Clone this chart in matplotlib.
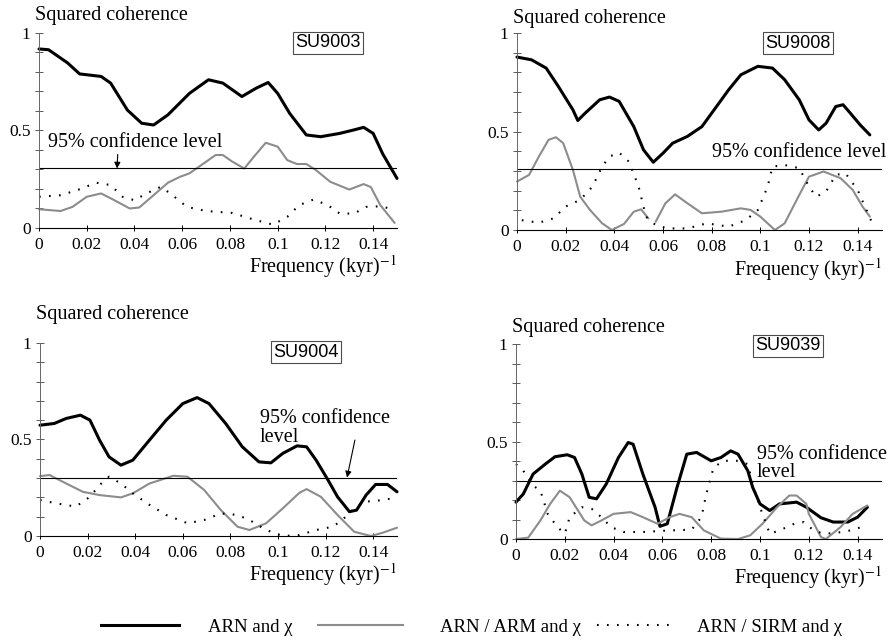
import numpy as np
import matplotlib
matplotlib.use("Agg")
import matplotlib.pyplot as plt
from matplotlib.lines import Line2D

plt.rcParams["font.family"] = ["Liberation Serif", "DejaVu Serif"]
plt.rcParams["mathtext.fontset"] = "stix"

# SU9003
f_9003_chi = [0, 0.004, 0.012, 0.017, 0.026, 0.03, 0.037, 0.043, 0.048, 0.054, 0.063,
              0.071, 0.077, 0.085, 0.091, 0.096, 0.1, 0.105, 0.112, 0.118, 0.126,
              0.132, 0.136, 0.14, 0.144, 0.15]
c_9003_chi = [0.918, 0.914, 0.846, 0.79, 0.777, 0.743, 0.605, 0.537, 0.528, 0.58, 0.69,
              0.76, 0.743, 0.674, 0.717, 0.746, 0.69, 0.588, 0.477, 0.468, 0.485,
              0.503, 0.516, 0.485, 0.38, 0.254]
f_9003_arm = [0, 0.009, 0.014, 0.02, 0.026, 0.031, 0.038, 0.042, 0.048, 0.054, 0.059,
              0.063, 0.067, 0.074, 0.077, 0.081, 0.086, 0.09, 0.095, 0.1, 0.104,
              0.108, 0.112, 0.116, 0.122, 0.13, 0.136, 0.139, 0.143, 0.149]
c_9003_arm = [0.096, 0.087, 0.108, 0.16, 0.177, 0.146, 0.1, 0.105, 0.168, 0.232, 0.262,
              0.28, 0.314, 0.374, 0.374, 0.34, 0.305, 0.365, 0.437, 0.417, 0.348,
              0.328, 0.328, 0.297, 0.237, 0.197, 0.225, 0.21, 0.117, 0.026]
f_9003_sirm = [0, 0.009, 0.016, 0.024, 0.03, 0.035, 0.04, 0.045, 0.051, 0.055, 0.062,
               0.07, 0.081, 0.09, 0.098, 0.104, 0.109, 0.115, 0.121, 0.126, 0.132,
               0.137, 0.143, 0.147]
c_9003_sirm = [0.16, 0.168, 0.194, 0.232, 0.22, 0.16, 0.142, 0.177, 0.211, 0.177, 0.108,
               0.087, 0.077, 0.043, 0.017, 0.057, 0.117, 0.146, 0.117, 0.074, 0.074,
               0.108, 0.111, 0.1]

# SU9008
f_9008_chi = [0, 0.006, 0.012, 0.017, 0.023, 0.025, 0.028, 0.034, 0.038, 0.042, 0.048,
              0.052, 0.056, 0.06, 0.064, 0.07, 0.076, 0.081, 0.087, 0.092, 0.099,
              0.105, 0.11, 0.116, 0.12, 0.124, 0.127, 0.131, 0.134, 0.137, 0.141, 0.145]
c_9008_chi = [0.878, 0.864, 0.822, 0.729, 0.61, 0.556, 0.593, 0.661, 0.675, 0.653, 0.525,
              0.407, 0.344, 0.39, 0.441, 0.475, 0.525, 0.61, 0.712, 0.788, 0.831,
              0.822, 0.763, 0.661, 0.559, 0.508, 0.542, 0.627, 0.636, 0.593, 0.534, 0.483]
f_9008_arm = [0, 0.005, 0.009, 0.013, 0.016, 0.019, 0.023, 0.026, 0.03, 0.035, 0.039,
              0.044, 0.048, 0.051, 0.054, 0.0555, 0.057, 0.061, 0.065, 0.07, 0.076,
              0.084, 0.092, 0.096, 0.1, 0.106, 0.11, 0.116, 0.12, 0.126, 0.133, 0.138,
              0.142, 0.145]
c_9008_arm = [0.246, 0.28, 0.373, 0.458, 0.471, 0.441, 0.305, 0.169, 0.102, 0.034, 0.0,
              0.031, 0.093, 0.105, 0.059, np.nan, 0.042, 0.136, 0.181, 0.136, 0.085,
              0.093, 0.11, 0.102, 0.068, 0.0, 0.034, 0.178, 0.271, 0.297, 0.263, 0.203,
              0.119, 0.068]
f_9008_sirm = [0.002, 0.009, 0.015, 0.02, 0.026, 0.031, 0.035, 0.038, 0.042, 0.046, 0.05,
               0.053, 0.057, 0.062, 0.07, 0.078, 0.087, 0.094, 0.099, 0.103, 0.105,
               0.11, 0.116, 0.12, 0.123, 0.127, 0.131, 0.135, 0.14, 0.146]
c_9008_sirm = [0.05, 0.037, 0.059, 0.119, 0.153, 0.22, 0.322, 0.373, 0.393, 0.347, 0.22,
               0.068, 0.025, 0.008, 0.008, 0.034, 0.017, 0.05, 0.102, 0.22, 0.322,
               0.33, 0.314, 0.22, 0.169, 0.195, 0.28, 0.288, 0.203, 0.034]

# SU9004
f_9004_chi = [0, 0.006, 0.011, 0.017, 0.021, 0.025, 0.029, 0.034, 0.039, 0.046, 0.053,
              0.06, 0.066, 0.071, 0.078, 0.085, 0.092, 0.097, 0.102, 0.108, 0.112,
              0.116, 0.121, 0.125, 0.13, 0.133, 0.137, 0.141, 0.146, 0.15]
c_9004_chi = [0.574, 0.583, 0.609, 0.626, 0.6, 0.497, 0.41, 0.367, 0.393, 0.497, 0.6,
              0.686, 0.717, 0.686, 0.583, 0.462, 0.384, 0.379, 0.428, 0.467, 0.462,
              0.393, 0.29, 0.203, 0.126, 0.134, 0.212, 0.267, 0.267, 0.229]
f_9004_arm = [0, 0.004, 0.011, 0.018, 0.025, 0.034, 0.039, 0.046, 0.056, 0.062, 0.069,
              0.076, 0.083, 0.088, 0.095, 0.102, 0.109, 0.112, 0.118, 0.125, 0.132,
              0.139, 0.144, 0.15]
c_9004_arm = [0.31, 0.316, 0.272, 0.229, 0.212, 0.2, 0.221, 0.272, 0.312, 0.307, 0.238,
              0.134, 0.048, 0.031, 0.066, 0.143, 0.224, 0.243, 0.203, 0.109, 0.022,
              0.0, 0.017, 0.043]
f_9004_sirm = [0, 0.007, 0.015, 0.021, 0.025, 0.029, 0.034, 0.039, 0.045, 0.053, 0.062,
               0.069, 0.076, 0.083, 0.088, 0.095, 0.102, 0.109, 0.116, 0.123, 0.127,
               0.132, 0.137, 0.144, 0.15]
c_9004_sirm = [0.186, 0.169, 0.152, 0.203, 0.264, 0.307, 0.272, 0.221, 0.169, 0.109, 0.066,
               0.083, 0.117, 0.109, 0.083, 0.031, 0.0, 0.005, 0.031, 0.048, 0.083,
               0.143, 0.178, 0.186, 0.2]

# SU9039
f_9039_chi = [0, 0.003, 0.007, 0.012, 0.016, 0.021, 0.024, 0.027, 0.03, 0.033, 0.037,
              0.042, 0.046, 0.048, 0.052, 0.057, 0.059, 0.062, 0.066, 0.07, 0.074,
              0.08, 0.084, 0.088, 0.091, 0.095, 0.097, 0.1, 0.104, 0.108, 0.115,
              0.119, 0.125, 0.13, 0.136, 0.14, 0.144]
c_9039_chi = [0.189, 0.231, 0.333, 0.384, 0.422, 0.432, 0.418, 0.333, 0.214, 0.206, 0.282,
              0.418, 0.495, 0.486, 0.333, 0.163, 0.065, 0.078, 0.265, 0.435, 0.444,
              0.401, 0.418, 0.452, 0.435, 0.35, 0.265, 0.18, 0.146, 0.18, 0.189,
              0.163, 0.109, 0.087, 0.087, 0.112, 0.163]
f_9039_arm = [0, 0.005, 0.01, 0.014, 0.018, 0.022, 0.028, 0.031, 0.035, 0.04, 0.047,
              0.052, 0.058, 0.063, 0.067, 0.072, 0.077, 0.084, 0.091, 0.096, 0.101,
              0.107, 0.112, 0.115, 0.119, 0.12, 0.125, 0.127, 0.133, 0.138, 0.144]
c_9039_arm = [0.0, 0.007, 0.095, 0.18, 0.248, 0.214, 0.095, 0.07, 0.095, 0.129, 0.138,
              0.112, 0.078, 0.112, 0.129, 0.112, 0.044, 0.002, 0.0, 0.019, 0.078,
              0.163, 0.223, 0.223, 0.18, 0.129, 0.01, 0.0, 0.061, 0.129, 0.172]
f_9039_sirm = [0, 0.003, 0.007, 0.01, 0.013, 0.017, 0.02, 0.022, 0.027, 0.031, 0.035,
               0.039, 0.044, 0.052, 0.063, 0.072, 0.076, 0.078, 0.081, 0.085, 0.091,
               0.095, 0.097, 0.1, 0.104, 0.108, 0.114, 0.118, 0.122, 0.126, 0.131,
               0.137, 0.144]
c_9039_sirm = [0.384, 0.35, 0.274, 0.248, 0.129, 0.061, 0.027, 0.112, 0.163, 0.155, 0.112,
               0.061, 0.036, 0.036, 0.044, 0.048, 0.112, 0.231, 0.367, 0.401, 0.401,
               0.384, 0.282, 0.163, 0.027, 0.044, 0.078, 0.087, 0.044, 0.027, 0.031,
               0.044, 0.07]

cores = ["SU9003", "SU9008", "SU9004", "SU9039"]
conf_level = [0.305, 0.308, 0.303, 0.30]
x_ticks = [0, 0.02, 0.04, 0.06, 0.08, 0.1, 0.12, 0.14]
x_ticklabels = ["0", "0.02", "0.04", "0.06", "0.08", "0.1", "0.12", "0.14"]
legend_labels = ["ARN and \u03c7", "ARN / ARM and \u03c7", "ARN / SIRM and \u03c7"]

series = {
    "SU9003": [(f_9003_chi, c_9003_chi), (f_9003_arm, c_9003_arm), (f_9003_sirm, c_9003_sirm)],
    "SU9008": [(f_9008_chi, c_9008_chi), (f_9008_arm, c_9008_arm), (f_9008_sirm, c_9008_sirm)],
    "SU9004": [(f_9004_chi, c_9004_chi), (f_9004_arm, c_9004_arm), (f_9004_sirm, c_9004_sirm)],
    "SU9039": [(f_9039_chi, c_9039_chi), (f_9039_arm, c_9039_arm), (f_9039_sirm, c_9039_sirm)],
}

line_styles = [
    dict(color="black", lw=2.2, ls="-"),
    dict(color="0.55", lw=1.5, ls="-"),
    dict(color="black", lw=1.5, ls=(0, (0.8, 4.0))),
]

fig = plt.figure(figsize=(8.91, 6.4), dpi=100)
rects = [
    [0.0438, 0.6438, 0.4018, 0.3047],
    [0.5802, 0.6406, 0.4097, 0.3078],
    [0.0449, 0.1625, 0.4007, 0.3016],
    [0.5791, 0.1578, 0.4108, 0.3047],
]
title_y = [1.09, 1.075, 1.145, 1.087]
box_pos = [(0.807, 0.949), (0.77, 0.949), (0.745, 0.953), (0.743, 0.99)]

for i, core in enumerate(cores):
    ax = fig.add_axes(rects[i])
    ax.set_xlim(0, 0.15)
    ax.set_ylim(0, 1)
    for (f, c), st in zip(series[core], line_styles):
        ax.plot(f, c, clip_on=False, solid_capstyle="round", **st)
    ax.axhline(conf_level[i], color="black", lw=0.8)

    for s in ["top", "right"]:
        ax.spines[s].set_visible(False)
    ax.spines["left"].set_color("0.4")
    ax.spines["left"].set_linewidth(0.7)
    ax.spines["bottom"].set_linewidth(0.8)
    ax.set_yticks([0, 0.5, 1])
    ax.set_yticklabels(["0", "0.5", "1"])
    ax.set_yticks(np.arange(0, 1.01, 0.1), minor=True)
    ax.set_xticks(x_ticks)
    ax.set_xticklabels(x_ticklabels)
    ax.tick_params(axis="y", which="both", direction="inout", length=6, width=0.7,
                   color="0.35", labelsize=12.5, pad=3)
    ax.tick_params(axis="x", direction="inout", length=5, width=0.7, labelsize=12.5, pad=4)

    ax.text(-0.012, title_y[i], "Squared coherence", transform=ax.transAxes,
            fontsize=14.5, ha="left", va="center")
    ax.text(1.0, -0.2, "Frequency (kyr)$^{-1}$", transform=ax.transAxes,
            fontsize=14.5, ha="right", va="center")
    ax.text(*box_pos[i], core, transform=ax.transAxes, ha="center", va="center",
            fontsize=13, family="Liberation Sans",
            bbox=dict(boxstyle="square,pad=0.12", fc="white", ec="0.3", lw=0.8))

# confidence level annotations
axes = fig.axes
axes[0].annotate("95% confidence level", xy=(0.0327, conf_level[0]), xytext=(0.0038, 0.44),
                 fontsize=14.5, va="center",
                 arrowprops=dict(arrowstyle="-|>", color="black", lw=0.8,
                                 shrinkA=0, shrinkB=0, mutation_scale=9,
                                 relpos=(0.4, 0.0)))
axes[1].text(0.08, 0.396, "95% confidence level", fontsize=14.5, va="center")
axes[2].text(0.0924, 0.56, "95% confidence\nlevel", fontsize=14.5, va="center",
             linespacing=1.0)
axes[2].annotate("", xy=(0.129, conf_level[2]), xytext=(0.1323, 0.497),
                 arrowprops=dict(arrowstyle="-|>", color="black", lw=0.8,
                                 shrinkA=0, shrinkB=0, mutation_scale=9))
axes[3].text(0.0987, 0.387, "95% confidence\nlevel", fontsize=14.5, va="center",
             linespacing=0.95)

# legend along the bottom
legend_lines = [(101, 179), (318, 403), (597, 670)]
legend_text_x = [208, 440, 697]
W, H = 891.0, 640.0
for (x0, x1), tx, lab, st in zip(legend_lines, legend_text_x, legend_labels, line_styles):
    fig.add_artist(Line2D([x0 / W, x1 / W], [1 - 625 / H, 1 - 625 / H],
                          transform=fig.transFigure, **st))
    fig.text(tx / W, 1 - 627 / H, lab, fontsize=13.5, va="center", ha="left")

fig.savefig("out.png", dpi=100)
